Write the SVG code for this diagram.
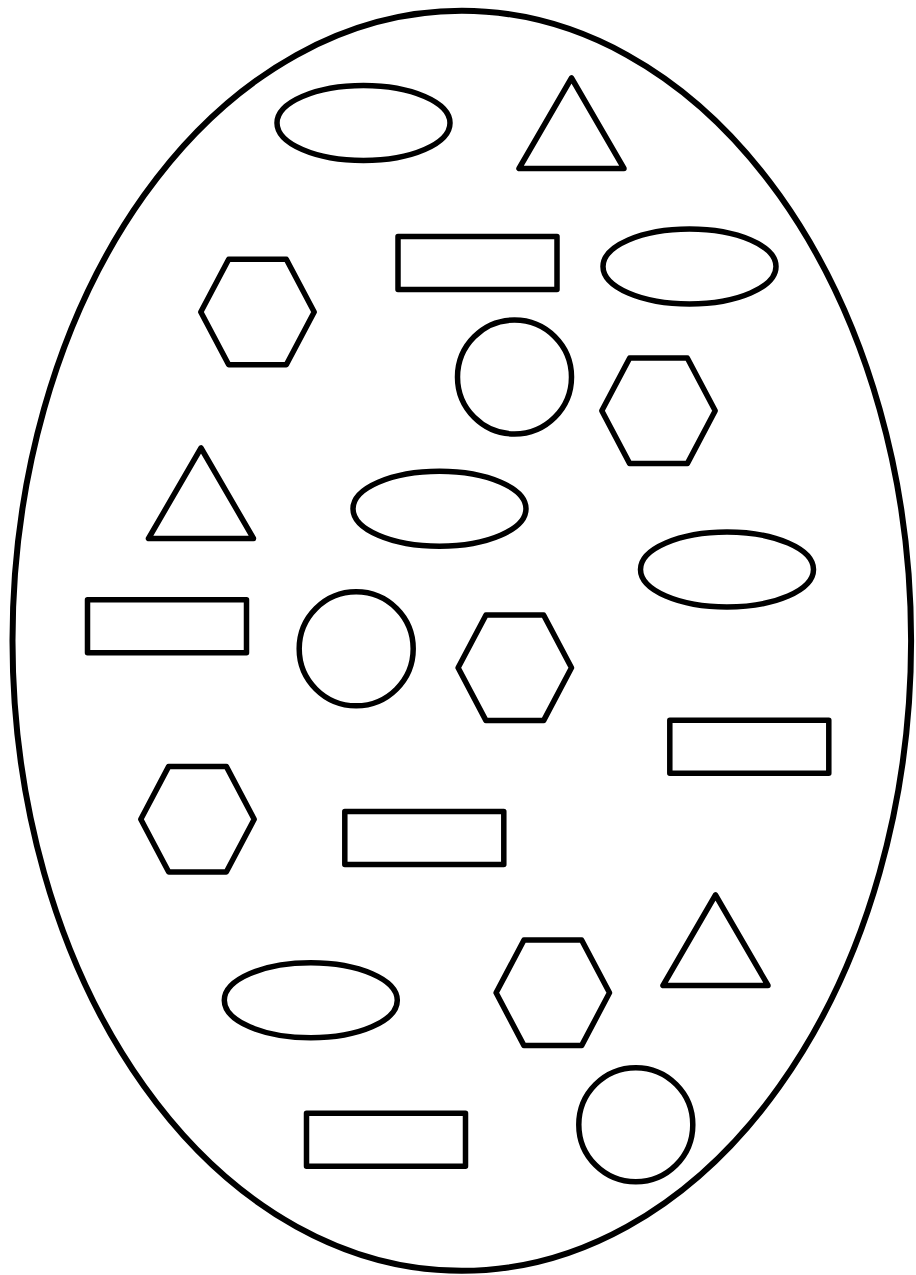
<svg xmlns="http://www.w3.org/2000/svg" xmlns:xlink="http://www.w3.org/1999/xlink" width="916" height="1275" viewBox="0 0 916 1275">
<style>
.s{fill:none;stroke:#000;stroke-width:5.5;stroke-linejoin:round}
.o{fill:none;stroke:#000;stroke-width:6}
</style>
<defs>
<ellipse id="ov" class="s" cx="0" cy="0" rx="86.5" ry="37.5"/>
<polygon id="tri" class="s" points="0,0 -52.5,90.5 52.5,90.5"/>
<rect id="rc" class="s" x="0" y="0" width="159" height="53"/>
<polygon id="hex" class="s" points="-56.7,0 -28.8,-52.8 28.8,-52.8 56.7,0 28.8,52.8 -28.8,52.8"/>
<circle id="ci" class="s" cx="0" cy="0" r="57"/>
</defs>
<rect width="916" height="1275" fill="#fff"/>
<g id="outer"><ellipse class="o" cx="461.8" cy="640.8" rx="449.3" ry="630"/></g>
<g id="ellipse1"><use xlink:href="#ov" x="363.5" y="123"/></g>
<g id="triangle1"><use xlink:href="#tri" x="571.5" y="78"/></g>
<g id="rect1"><use xlink:href="#rc" x="398" y="236.5"/></g>
<g id="ellipse2"><use xlink:href="#ov" x="689.5" y="266.5"/></g>
<g id="hexagon1"><use xlink:href="#hex" x="257.5" y="312"/></g>
<g id="circle1"><use xlink:href="#ci" x="514.5" y="377"/></g>
<g id="hexagon2"><use xlink:href="#hex" x="658.5" y="410.8"/></g>
<g id="triangle2"><use xlink:href="#tri" x="201" y="448"/></g>
<g id="ellipse3"><use xlink:href="#ov" x="439.5" y="508.7"/></g>
<g id="ellipse4"><use xlink:href="#ov" x="727" y="569.5"/></g>
<g id="rect2"><use xlink:href="#rc" x="87.5" y="599.8"/></g>
<g id="circle2"><use xlink:href="#ci" x="356.2" y="648.8"/></g>
<g id="hexagon3"><use xlink:href="#hex" x="514.8" y="667.8"/></g>
<g id="rect3"><use xlink:href="#rc" x="669.8" y="720.2"/></g>
<g id="hexagon4"><use xlink:href="#hex" x="197.5" y="819.2"/></g>
<g id="rect4"><use xlink:href="#rc" x="344.8" y="811.5"/></g>
<g id="triangle3"><use xlink:href="#tri" x="715.5" y="895"/></g>
<g id="ellipse5"><use xlink:href="#ov" x="310.8" y="1000.3"/></g>
<g id="hexagon5"><use xlink:href="#hex" x="552.8" y="992.8"/></g>
<g id="circle3"><use xlink:href="#ci" x="635.8" y="1124.7"/></g>
<g id="rect5"><use xlink:href="#rc" x="306.5" y="1113.2"/></g>
</svg>
